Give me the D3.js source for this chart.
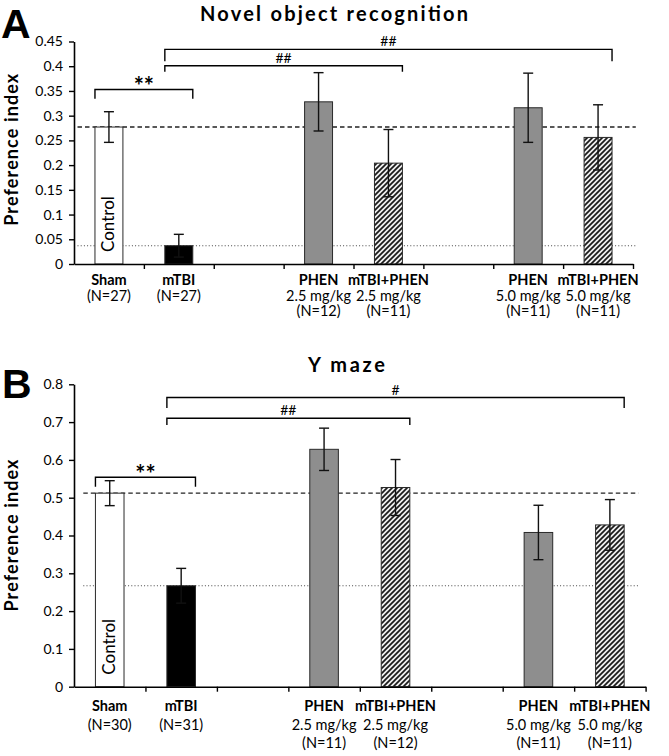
<!DOCTYPE html>
<html><head><meta charset="utf-8">
<script src="https://cdn.jsdelivr.net/npm/d3@7"></script>
<style>
body{margin:0;background:#fff;}
svg{display:block;font-family:Lato,"Open Sans",sans-serif;}
</style></head>
<body>
<script>
// ---------- DATA ----------
const slots = ["Sham","mTBI","gap1","PHEN 2.5","mTBI+PHEN 2.5","gap2","PHEN 5.0","mTBI+PHEN 5.0"];
const groups = ["Sham","mTBI","PHEN 2.5","mTBI+PHEN 2.5","PHEN 5.0","mTBI+PHEN 5.0"];
const groupNames = ["Sham","mTBI","PHEN","mTBI+PHEN","PHEN","mTBI+PHEN"];
const groupDoses = ["","","2.5 mg/kg","2.5 mg/kg","5.0 mg/kg","5.0 mg/kg"];

const novelTitle = "Novel object recognition";
const novelValues = [0.277, 0.037, 0.328, 0.204, 0.316, 0.256];
const novelErrors = [0.031, 0.023, 0.059, 0.068, 0.070, 0.066];
const novelN = [27, 27, 12, 11, 11, 11];
const novelTicks = [0, 0.05, 0.1, 0.15, 0.2, 0.25, 0.3, 0.35, 0.4, 0.45];
const novelTickLabels = ["0","0.05","0.1","0.15","0.2","0.25","0.3","0.35","0.4","0.45"];
const novelBrackets = [
  {from:"Sham", to:"mTBI", label:"**", top:0.353, end:0.334},
  {from:"mTBI", to:"mTBI+PHEN 2.5", label:"##", top:0.401, end:0.389},
  {from:"mTBI", to:"mTBI+PHEN 5.0", label:"##", top:0.434, end:0.410}
];

const yMazeTitle = "Y maze";
const yMazeValues = [0.512, 0.267, 0.628, 0.527, 0.408, 0.428];
const yMazeErrors = [0.033, 0.046, 0.056, 0.074, 0.072, 0.067];
const yMazeN = [30, 31, 11, 12, 11, 11];
const yMazeTicks = [0, 0.1, 0.2, 0.3, 0.4, 0.5, 0.6, 0.7, 0.8];
const yMazeTickLabels = ["0","0.1","0.2","0.3","0.4","0.5","0.6","0.7","0.8"];
const yMazeBrackets = [
  {from:"Sham", to:"mTBI", label:"**", top:0.554, end:0.529},
  {from:"mTBI", to:"mTBI+PHEN 2.5", label:"##", top:0.710, end:0.692},
  {from:"mTBI", to:"mTBI+PHEN 5.0", label:"#", top:0.765, end:0.737}
];

// ---------- STYLE / LAYOUT ----------
const fills = {"Sham":"#ffffff","mTBI":"#000000","PHEN 2.5":"#8e8e8e","mTBI+PHEN 2.5":"url(#hatch)","PHEN 5.0":"#8e8e8e","mTBI+PHEN 5.0":"url(#hatch)"};

const svg = d3.select("body").append("svg").attr("width",669).attr("height",756);
const defs = svg.append("defs");
const pat = defs.append("pattern").attr("id","hatch").attr("patternUnits","userSpaceOnUse")
  .attr("width",5).attr("height",5);
pat.append("rect").attr("width",5).attr("height",5).attr("fill","#efefef");
pat.append("path").attr("d","M-1,6 L6,-1 M-1,1 L1,-1 M4,6 L6,4").attr("stroke","#1a1a1a").attr("stroke-width",1.7);

function drawPanel(p){
  const g = svg.append("g");
  const xs = d3.scaleLinear().domain([0, slots.length]).range([p.x0, p.x1]);
  const xb = d3.scaleBand().domain(slots).range([p.x0, p.x1]).paddingInner(0).paddingOuter(0);
  const y = d3.scaleLinear().domain([0, p.max]).range([p.y0, p.yTop]);
  const cx = k => xb(k) + xb.bandwidth()/2;
  const bw = xb.bandwidth()*0.4;

  // panel letter & title
  g.append("text").attr("x",p.letterX).attr("y",p.letterY).attr("font-size",41).attr("font-weight",700)
    .attr("font-family","'Liberation Sans',Arial,sans-serif").attr("fill","#000").text(p.letter);
  g.append("text").attr("x",p.titleX).attr("y",p.titleY).attr("text-anchor","middle")
    .attr("font-size",20).attr("font-weight",700)
    .attr("textLength",p.titleW).attr("lengthAdjust","spacing").text(p.title);

  // y label
  g.append("text").attr("transform",`translate(17.5,${(p.y0+p.yTop)/2 + p.ylabOff}) rotate(-90)`)
    .attr("text-anchor","middle").attr("font-size",18).attr("font-weight",700)
    .attr("textLength",152).attr("lengthAdjust","spacing").text("Preference index");

  // reference lines
  g.append("line").attr("x1",xs(p.refStart)).attr("x2",xs(p.refEnd))
    .attr("y1",y(p.values[0])).attr("y2",y(p.values[0]))
    .attr("stroke","#222").attr("stroke-width",1.4).attr("stroke-dasharray","4.5,3");
  g.append("line").attr("x1",xs(p.refStart)).attr("x2",xs(p.refEnd))
    .attr("y1",y(p.values[1])).attr("y2",y(p.values[1]))
    .attr("stroke","#444").attr("stroke-width",1.1).attr("stroke-dasharray","1,2.2");

  // bars
  g.selectAll("rect.bar").data(groups).join("rect").attr("class","bar")
    .attr("x",d=>cx(d)-bw/2).attr("width",bw)
    .attr("y",(d,i)=>y(p.values[i])).attr("height",(d,i)=>y(0)-y(p.values[i]))
    .attr("fill",d=>fills[d]).attr("stroke","#2a2a2a").attr("stroke-width",1);

  // error bars
  const eb = g.append("g").attr("stroke","#111").attr("stroke-width",1.4);
  groups.forEach((d,i)=>{
    const v=p.values[i], e=p.errors[i], x=cx(d);
    eb.append("line").attr("x1",x).attr("x2",x).attr("y1",y(v-e)).attr("y2",y(v+e));
    eb.append("line").attr("x1",x-5).attr("x2",x+5).attr("y1",y(v+e)).attr("y2",y(v+e));
    eb.append("line").attr("x1",x-5).attr("x2",x+5).attr("y1",y(v-e)).attr("y2",y(v-e));
  });

  // Control label
  g.append("text").attr("transform",`translate(${cx("Sham")+5.5},${p.y0-12}) rotate(-90)`)
    .attr("font-size",17).attr("fill","#000").text("Control");

  // axes
  const ya = g.append("g").attr("transform",`translate(${p.x0},0)`)
    .call(d3.axisLeft(y).tickValues(p.ticks).tickFormat((d,i)=>p.tickLabels[i]).tickSize(5).tickSizeOuter(0).tickPadding(6));
  const xa = g.append("g").attr("transform",`translate(0,${p.y0})`)
    .call(d3.axisBottom(xs).tickValues(d3.range(1, slots.length+1)).tickFormat("").tickSize(5).tickSizeOuter(0));
  [ya,xa].forEach(a=>{
    a.select(".domain").attr("stroke","#000").attr("stroke-width",1.6);
    a.selectAll(".tick line").attr("stroke","#000").attr("stroke-width",1.4);
    a.selectAll(".tick text").attr("font-size",14).attr("fill","#000").attr("font-family","Lato");
  });

  // category labels
  groups.forEach((d,i)=>{
    const lines = [groupNames[i]];
    if (groupDoses[i]) lines.push(groupDoses[i]);
    lines.push(`(N=${p.n[i]})`);
    lines.forEach((t,j)=>{
      g.append("text").attr("x",cx(d)).attr("y",p.labY + j*p.labGap).attr("text-anchor","middle")
        .attr("font-size",14.5).attr("font-weight", j===0?700:400).text(t);
    });
  });

  // significance brackets
  const bg = g.append("g").attr("fill","none").attr("stroke","#000").attr("stroke-width",1.4);
  p.brackets.forEach(b=>{
    const xl = cx(b.from) - 0.2*xb.bandwidth();
    const xr = cx(b.to) + 0.2*xb.bandwidth();
    bg.append("path").attr("d",`M${xl},${y(b.end)} V${y(b.top)} H${xr} V${y(b.end)}`);
    const star = b.label === "**";
    g.append("text").attr("x",(xl+xr)/2).attr("y", star ? y(b.top)+6 : y(b.top)-3)
      .attr("text-anchor","middle").attr("font-size", star?24:14).attr("font-weight", star?700:400)
      .text(b.label);
  });
}

drawPanel({letter:"A", letterX:1, letterY:38, title:novelTitle, titleX:334, titleY:20.5, titleW:268,
  x0:74, x1:633, y0:264, yTop:41.5, max:0.45, ylabOff:-3,
  values:novelValues, errors:novelErrors, n:novelN, ticks:novelTicks, tickLabels:novelTickLabels,
  brackets:novelBrackets, refStart:0.05, refEnd:8.04, labY:285, labGap:15.5});

drawPanel({letter:"B", letterX:2, letterY:398, title:yMazeTitle, titleX:346.5, titleY:372, titleW:77,
  x0:74, x1:645.6, y0:686.7, yTop:384.3, max:0.8, ylabOff:0,
  values:yMazeValues, errors:yMazeErrors, n:yMazeN, ticks:yMazeTicks, tickLabels:yMazeTickLabels,
  brackets:yMazeBrackets, refStart:0.13, refEnd:7.9, labY:711, labGap:18.5});
</script>
</body></html>
